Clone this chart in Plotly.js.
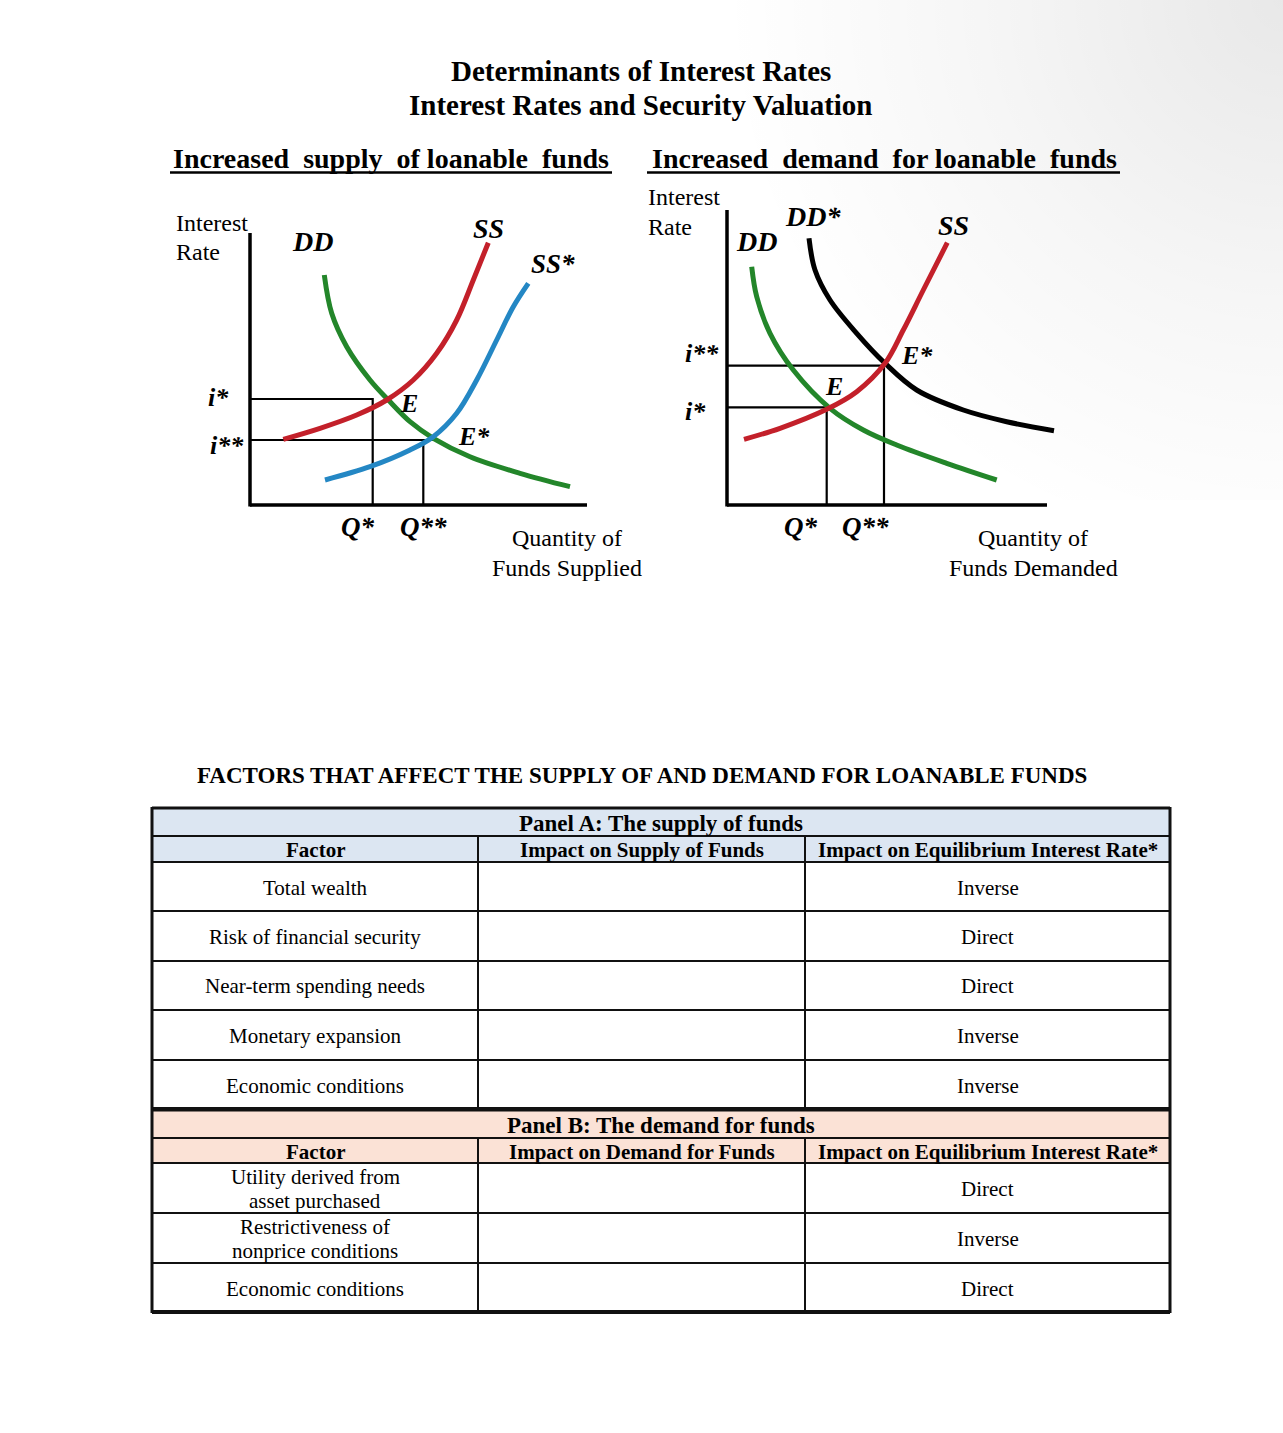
<!DOCTYPE html>
<html>
<head>
<meta charset="utf-8">
<script src="https://cdn.plot.ly/plotly-3.0.1.min.js"></script>
<style>html,body{margin:0;padding:0;background:#fff;}#chart{width:1283px;height:1433px;}</style>
</head>
<body>
<div id="chart"></div>
<script>
// ---------- DATA ----------
// Left diagram: increased supply of loanable funds (quantity, interest rate units)
const supplyDD_q  = [7.43, 8.17, 9.67, 12.0, 13.83, 16.0, 18.33, 22.0, 27.0, 32.0];
const supplyDD_r  = [23.0, 19.17, 15.83, 12.5, 10.5, 8.33, 6.67, 4.83, 3.17, 1.83];
const supplySS_q  = [3.33, 7.0, 10.67, 13.67, 16.33, 18.67, 20.67, 22.33, 23.83];
const supplySS_r  = [6.57, 7.67, 9.0, 10.5, 12.5, 15.17, 18.5, 22.5, 26.23];
const supplySS2_q = [7.5, 12.0, 16.0, 18.33, 20.67, 22.67, 24.67, 26.33, 27.83];
const supplySS2_r = [2.5, 3.83, 5.5, 6.83, 9.17, 12.5, 16.5, 19.83, 22.17];
const supplyLevels = {iStar: 10.6, qStar: 12.27, iStar2: 6.5, qStar2: 17.33, eStar2: 18.33};

// Right diagram: increased demand for loanable funds
const demandDD_q  = [2.47, 2.97, 4.3, 6.63, 10.3, 13.63, 16.97, 21.97, 26.97];
const demandDD_r  = [23.83, 20.83, 17.17, 13.5, 9.67, 7.5, 6.0, 4.17, 2.5];
const demandDD2_q = [8.2, 8.8, 10.3, 12.97, 15.8, 18.97, 23.63, 27.97, 32.7];
const demandDD2_r = [26.67, 23.5, 20.5, 17.17, 14.17, 11.5, 9.5, 8.33, 7.43];
const demandSS_q  = [1.7, 5.3, 9.97, 12.97, 15.8, 17.63, 19.63, 22.03];
const demandSS_r  = [6.57, 7.67, 9.57, 11.33, 14.17, 17.5, 21.5, 26.23];
const demandLevels = {iStar: 9.77, qStar: 9.97, iStar2: 13.93, qStar2: 15.7};

// Table
const panelATitle = 'Panel A: The supply of funds';
const panelAHeaders = ['Factor', 'Impact on Supply of Funds', 'Impact on Equilibrium Interest Rate*'];
const supplyFactors = ['Total wealth', 'Risk of financial security', 'Near-term spending needs', 'Monetary expansion', 'Economic conditions'];
const supplyImpact  = ['', '', '', '', ''];
const supplyRate    = ['Inverse', 'Direct', 'Direct', 'Inverse', 'Inverse'];
const panelBTitle = 'Panel B: The demand for funds';
const panelBHeaders = ['Factor', 'Impact on Demand for Funds', 'Impact on Equilibrium Interest Rate*'];
const demandFactors = ['Utility derived from<br>asset purchased', 'Restrictiveness of<br>nonprice conditions', 'Economic conditions'];
const demandImpact  = ['', '', ''];
const demandRate    = ['Direct', 'Inverse', 'Direct'];

// ---------- LAYOUT CONSTANTS ----------
const W = 1283, H = 1433;
const FONT = 'Liberation Serif, Times New Roman, serif';
const px = x => x / W;
const py = y => 1 - y / H;
const UNIT = 10; // pixels per data unit

function axX(ox, a, b, anchor) {
  return {domain: [a / W, b / W], range: [(a - ox) / UNIT, (b - ox) / UNIT], visible: false, anchor: anchor, fixedrange: true};
}
function axY(oy, top, bot, anchor) {
  return {domain: [1 - bot / H, 1 - top / H], range: [(oy - bot) / UNIT, (oy - top) / UNIT], visible: false, anchor: anchor, fixedrange: true};
}

const GREEN = '#23862a', RED = '#c3202a', BLUE = '#2487c4', BLACK = '#000';

function curve(q, r, color, xa, ya) {
  return {x: q, y: r, xaxis: xa, yaxis: ya, mode: 'lines', hoverinfo: 'skip', showlegend: false,
          line: {color: color, width: 5, shape: 'spline', smoothing: 1}};
}
function guide(q, r, xa, ya) {
  return {x: q, y: r, xaxis: xa, yaxis: ya, mode: 'lines', hoverinfo: 'skip', showlegend: false,
          connectgaps: false, line: {color: '#000', width: 2.2}};
}

const S = supplyLevels, D = demandLevels;
const traces = [
  guide([0, S.qStar, S.qStar], [S.iStar, S.iStar, 0], 'x', 'y'),
  guide([0, S.eStar2, null, S.qStar2, S.qStar2], [S.iStar2, S.iStar2, null, S.iStar2, 0], 'x', 'y'),
  curve(supplyDD_q, supplyDD_r, GREEN, 'x', 'y'),
  curve(supplySS_q, supplySS_r, RED, 'x', 'y'),
  curve(supplySS2_q, supplySS2_r, BLUE, 'x', 'y'),
  guide([0, D.qStar, D.qStar], [D.iStar, D.iStar, 0], 'x2', 'y2'),
  guide([0, D.qStar2, D.qStar2], [D.iStar2, D.iStar2, 0], 'x2', 'y2'),
  curve(demandDD_q, demandDD_r, GREEN, 'x2', 'y2'),
  curve(demandDD2_q, demandDD2_r, BLACK, 'x2', 'y2'),
  curve(demandSS_q, demandSS_r, RED, 'x2', 'y2')
];

const shapes = [];
const annotations = [];

// Axis lines of the diagrams
function axisLines(xa, ya, xLen, yLen) {
  shapes.push({type: 'line', xref: xa, yref: ya, x0: 0, x1: xLen, y0: 0, y1: 0, line: {color: '#000', width: 3.5}});
  shapes.push({type: 'line', xref: xa, yref: ya, x0: 0, x1: 0, y0: -0.15, y1: yLen, line: {color: '#000', width: 3.5}});
}
axisLines('x', 'y', 33.7, 27.2);
axisLines('x2', 'y2', 32.0, 29.5);

// text helper: multi-line text is split, each line placed with a given gap (px)
function ann(text, x, y, size, opts) {
  opts = opts || {};
  const lines = text.split('<br>');
  const gap = opts.gap || size * 1.2;
  const wrap = opts.wrap || (t => t);
  const y0 = y - gap * (lines.length - 1) / 2;
  lines.forEach((ln, k) => {
    annotations.push({
      text: wrap(ln), x: px(x), y: py(y0 + k * gap), xref: 'paper', yref: 'paper', showarrow: false,
      xanchor: opts.xanchor || 'center', yanchor: 'middle', align: 'center',
      font: Object.assign({family: FONT, size: size, color: '#000'}, opts.font || {})
    });
  });
}
const bi = t => '<b><i>' + t + '</i></b>';
const b = t => '<b>' + t + '</b>';
function uline(x0, x1, y, w) {
  shapes.push({type: 'line', xref: 'paper', yref: 'paper', x0: px(x0), x1: px(x1), y0: py(y), y1: py(y), line: {color: '#000', width: w}});
}

// Titles
ann('Determinants of Interest Rates<br>Interest Rates and Security Valuation', 641, 88, 29, {gap: 34, wrap: b});
ann(b('Increased  supply  of loanable  funds'), 391, 158, 28);
ann(b('Increased  demand  for loanable  funds'), 884, 158, 28);
uline(170, 612, 172.5, 2.6);
uline(647, 1120, 172.5, 2.6);

// Left diagram labels
ann('Interest<br>Rate', 174, 237, 24, {xanchor: 'left', gap: 29});
ann(bi('DD'), 312, 241, 28);
ann(bi('SS'), 488, 229, 28);
ann(bi('SS*'), 553, 264, 27);
ann(bi('E'), 409, 403, 26);
ann(bi('E*'), 474, 436, 26);
ann(bi('i*'), 218, 397, 26);
ann(bi('i**'), 227, 445, 26);
ann(bi('Q*'), 357, 527, 27);
ann(bi('Q**'), 423, 527, 27);
ann('Quantity of<br>Funds Supplied', 567, 553, 24, {gap: 30});

// Right diagram labels
ann('Interest<br>Rate', 646, 212, 24, {xanchor: 'left', gap: 30});
ann(bi('DD*'), 813, 216, 28);
ann(bi('DD'), 756, 241, 28);
ann(bi('SS'), 953, 225, 28);
ann(bi('i**'), 702, 354, 26);
ann(bi('i*'), 695, 412, 26);
ann(bi('E'), 834, 386, 26);
ann(bi('E*'), 917, 355, 26);
ann(bi('Q*'), 800, 527, 27);
ann(bi('Q**'), 865, 527, 27);
ann('Quantity of<br>Funds Demanded', 1033, 553, 24, {gap: 30});

// Table heading
ann(b('FACTORS THAT AFFECT THE SUPPLY OF AND DEMAND FOR LOANABLE FUNDS'), 642, 775, 23);

// ---------- TABLE ----------
const colEdges = [152, 478, 805, 1170];
const BLUE_BG = '#dce6f2', PEACH_BG = '#fbe2d6';
const LINE = '#111';

function rect(x0, y0, x1, y1, fill) {
  shapes.push({type: 'rect', xref: 'paper', yref: 'paper', x0: px(x0), x1: px(x1), y0: py(y1), y1: py(y0),
               fillcolor: fill, line: {width: 0}, layer: 'below'});
}
function hline(y, w) {
  shapes.push({type: 'line', xref: 'paper', yref: 'paper', x0: px(colEdges[0]), x1: px(colEdges[3]), y0: py(y), y1: py(y), line: {color: LINE, width: w}});
}
function vline(x, y0, y1, w) {
  shapes.push({type: 'line', xref: 'paper', yref: 'paper', x0: px(x), x1: px(x), y0: py(y0), y1: py(y1), line: {color: LINE, width: w}});
}

function panel(top, titleH, headH, rowEdges, title, headers, factors, impact, rate, bg, topW, bottomW) {
  const headTop = top + titleH, rowsTop = headTop + headH;
  rect(colEdges[0], top, colEdges[3], rowsTop, bg);
  ann(b(title), (colEdges[0] + colEdges[3]) / 2, top + titleH / 2 + 1, 23);
  for (let c = 0; c < 3; c++) {
    ann(b(headers[c]), (colEdges[c] + colEdges[c + 1]) / 2, headTop + headH / 2 + 1, 21);
  }
  for (let r = 0; r < factors.length; r++) {
    const yc = (rowEdges[r] + rowEdges[r + 1]) / 2;
    const cells = [factors[r], impact[r], rate[r]];
    for (let c = 0; c < 3; c++) {
      if (cells[c]) ann(cells[c], (colEdges[c] + colEdges[c + 1]) / 2, yc + 1, 21, {gap: 24});
    }
  }
  hline(top, topW);
  hline(headTop, 2);
  for (let r = 0; r < rowEdges.length - 1; r++) hline(rowEdges[r], 2);
  hline(rowEdges[rowEdges.length - 1], bottomW);
  vline(colEdges[1], headTop, rowEdges[rowEdges.length - 1], 2);
  vline(colEdges[2], headTop, rowEdges[rowEdges.length - 1], 2);
}

panel(808, 28, 26, [862, 911, 961, 1010, 1060, 1109], panelATitle, panelAHeaders,
      supplyFactors, supplyImpact, supplyRate, BLUE_BG, 3, 4);
panel(1111, 27, 25, [1163, 1213, 1263, 1312], panelBTitle, panelBHeaders,
      demandFactors, demandImpact, demandRate, PEACH_BG, 1, 4);
vline(colEdges[0], 807, 1313, 3);
vline(colEdges[3], 807, 1313, 3);

// faint page shading in the top-right corner of the scan
const shadeSvg = '<svg xmlns="http://www.w3.org/2000/svg" width="600" height="500" viewBox="0 0 600 500">' +
  '<defs><radialGradient id="g" cx="600" cy="0" r="560" gradientUnits="userSpaceOnUse">' +
  '<stop offset="0" stop-color="#000" stop-opacity="0.09"/>' +
  '<stop offset="0.55" stop-color="#000" stop-opacity="0.035"/>' +
  '<stop offset="1" stop-color="#000" stop-opacity="0"/></radialGradient></defs>' +
  '<rect width="600" height="500" fill="url(#g)"/></svg>';

const layout = {
  width: W, height: H,
  margin: {l: 0, r: 0, t: 0, b: 0},
  paper_bgcolor: '#fff', plot_bgcolor: 'rgba(0,0,0,0)',
  showlegend: false,
  xaxis: axX(250, 235, 600, 'y'),
  yaxis: axY(505, 225, 515, 'x'),
  xaxis2: axX(727, 712, 1065, 'y2'),
  yaxis2: axY(505, 195, 515, 'x2'),
  images: [{source: 'data:image/svg+xml;charset=utf-8,' + encodeURIComponent(shadeSvg),
            xref: 'paper', yref: 'paper', x: px(683), y: 1, sizex: px(600), sizey: 500 / H,
            xanchor: 'left', yanchor: 'top', sizing: 'stretch', layer: 'below'}],
  shapes: shapes,
  annotations: annotations,
  font: {family: FONT}
};

Plotly.newPlot('chart', traces, layout, {staticPlot: true, displayModeBar: false});
</script>
</body>
</html>
